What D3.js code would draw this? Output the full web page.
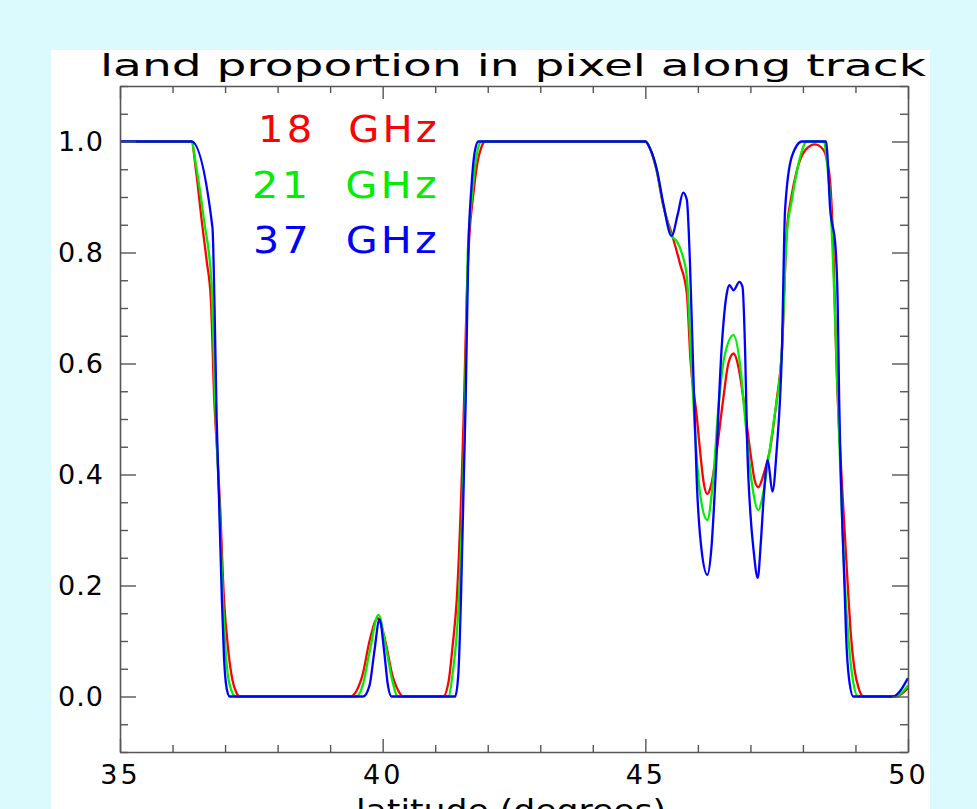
<!DOCTYPE html>
<html>
<head>
<meta charset="utf-8">
<script src="https://cdn.jsdelivr.net/npm/d3@7"></script>
<style>
  html, body { margin: 0; padding: 0; background: #dafafe; }
  svg { display: block; }
</style>
</head>
<body>
<svg id="chart" width="977" height="809"></svg>
<script>
// ---- data ----
const chartTitle = "land proportion in pixel along track";
const xAxisTitle = "latitude (degrees)";
const seriesNames = ["18 GHz", "21 GHz", "37 GHz"];
const seriesColors = ["#ff0000", "#00ee00", "#0000ff"];

const xTickLabels = [35, 40, 45, 50];
const yTickLabels = ["0.0", "0.2", "0.4", "0.6", "0.8", "1.0"];

const lat18 = [35.0, 36.36, 36.45, 36.555, 36.65, 36.73, 36.795, 36.85, 36.90, 36.98, 37.06, 37.14, 37.21, 37.28,
  39.38, 39.50, 39.62, 39.75, 39.905, 40.05, 40.18, 40.30, 40.39,
  41.15, 41.26, 41.33, 41.41, 41.55, 41.60, 41.65, 41.72, 41.80, 41.88, 41.95,
  45.0, 45.1, 45.22, 45.34, 45.52, 45.66, 45.79, 45.86, 45.98, 46.04, 46.12, 46.18, 46.25, 46.36, 46.48, 46.58, 46.68,
  46.78, 46.87, 47.02, 47.08, 47.15, 47.25, 47.37, 47.50, 47.60, 47.69, 47.78, 47.88, 48.05, 48.23, 48.39, 48.47,
  48.52, 48.58, 48.63, 48.75, 48.87, 48.91, 48.98, 49.06, 49.15, 49.79, 49.88, 50.0];
const val18 = [1.0, 1.0, 0.945, 0.858, 0.785, 0.714, 0.534, 0.44, 0.354, 0.174, 0.084, 0.03, 0.008, 0.0,
  0.0, 0.01, 0.04, 0.10, 0.141, 0.10, 0.04, 0.01, 0.0,
  0.0, 0.03, 0.09, 0.174, 0.534, 0.72, 0.83, 0.90, 0.96, 0.99, 1.0,
  1.0, 0.985, 0.945, 0.885, 0.828, 0.78, 0.726, 0.606, 0.504, 0.444, 0.38, 0.365, 0.38, 0.444, 0.534, 0.60, 0.618,
  0.59, 0.534, 0.426, 0.39, 0.377, 0.40, 0.444, 0.534, 0.624, 0.835, 0.90, 0.946, 0.985, 0.995, 0.985, 0.96,
  0.925, 0.805, 0.624, 0.37, 0.174, 0.114, 0.05, 0.015, 0.0, 0.0, 0.005, 0.015];

const lat21 = [35.0, 36.36, 36.45, 36.60, 36.745, 36.81, 36.89, 36.96, 37.02, 37.09, 37.20,
  39.50, 39.62, 39.75, 39.92, 40.06, 40.18, 40.29,
  41.25, 41.33, 41.45, 41.57, 41.62, 41.70, 41.78, 41.88,
  45.0, 45.1, 45.22, 45.34, 45.50, 45.60, 45.69, 45.79, 45.88, 45.95, 46.05, 46.18, 46.28, 46.40, 46.50, 46.68,
  46.80, 46.90, 47.02, 47.15, 47.25, 47.34, 47.45, 47.60, 47.69, 47.79, 47.95, 48.07, 48.40, 48.46, 48.52, 48.60,
  48.66, 48.80, 48.87, 48.95, 49.05, 49.75, 49.88, 50.0];
const val21 = [1.0, 1.0, 0.955, 0.858, 0.74, 0.534, 0.354, 0.174, 0.07, 0.02, 0.0,
  0.0, 0.02, 0.08, 0.147, 0.09, 0.03, 0.0,
  0.0, 0.04, 0.174, 0.534, 0.80, 0.90, 0.97, 1.0,
  1.0, 0.985, 0.947, 0.887, 0.83, 0.82, 0.80, 0.756, 0.594, 0.47, 0.36, 0.318, 0.38, 0.53, 0.61, 0.651,
  0.60, 0.50, 0.39, 0.336, 0.37, 0.426, 0.50, 0.624, 0.83, 0.895, 0.973, 1.0, 1.0, 0.96, 0.895, 0.714,
  0.55, 0.20, 0.10, 0.03, 0.0, 0.0, 0.007, 0.02];

const lat37 = [35.0, 36.36, 36.76, 36.80, 36.84, 36.885, 36.94, 36.98, 37.03, 37.09,
  39.63, 39.75, 39.84, 39.94, 40.03, 40.10, 40.17,
  41.38, 41.44, 41.49, 41.58, 41.63, 41.69, 41.75, 41.82,
  45.0, 45.1, 45.22, 45.34, 45.50, 45.62, 45.72, 45.79, 45.85, 45.91, 45.98, 46.07, 46.18, 46.26, 46.33, 46.45,
  46.55, 46.60, 46.68, 46.79, 46.85, 46.90, 46.94, 47.00, 47.06, 47.14, 47.20, 47.25, 47.33, 47.42, 47.50, 47.60,
  47.66, 47.79, 47.98, 48.44, 48.52, 48.62, 48.66, 48.69, 48.80, 48.82, 48.88, 48.96, 49.72, 49.85, 49.92, 50.0];
const val37 = [1.0, 1.0, 0.845, 0.70, 0.50, 0.354, 0.174, 0.07, 0.015, 0.0,
  0.0, 0.02, 0.08, 0.139, 0.08, 0.02, 0.0,
  0.0, 0.04, 0.174, 0.534, 0.80, 0.918, 0.98, 1.0,
  1.0, 0.985, 0.949, 0.889, 0.83, 0.87, 0.908, 0.895, 0.78, 0.594, 0.385, 0.264, 0.219, 0.27, 0.384, 0.624,
  0.726, 0.741, 0.732, 0.747, 0.738, 0.62, 0.45, 0.33, 0.264, 0.214, 0.28, 0.354, 0.426, 0.369, 0.444, 0.624,
  0.877, 0.973, 1.0, 1.0, 0.877, 0.81, 0.714, 0.534, 0.174, 0.114, 0.03, 0.0, 0.0, 0.01, 0.02, 0.033];

// ---- drawing ----
(function () {
const svg = d3.select("#chart");
const W = 977, H = 809;
const pLeft = 120, pRight = 908, pTop = 86, pBottom = 752;
const FONT = "'DejaVu Sans', 'Liberation Sans', sans-serif";

// white panel
svg.append("rect").attr("x", 51).attr("y", 50).attr("width", 879).attr("height", H - 50).attr("fill", "#ffffff");

const x = d3.scaleLinear().domain([35, 50]).range([pLeft, pRight]);
const y = d3.scaleLinear().domain([-0.1, 1.1]).range([pBottom, pTop]);

const series = [
  { name: seriesNames[0], color: seriesColors[0], lat: lat18, val: val18 },
  { name: seriesNames[1], color: seriesColors[1], lat: lat21, val: val21 },
  { name: seriesNames[2], color: seriesColors[2], lat: lat37, val: val37 }
];

const clipId = "plotclip";
svg.append("clipPath").attr("id", clipId).append("rect")
  .attr("x", pLeft).attr("y", pTop).attr("width", pRight - pLeft).attr("height", pBottom - pTop);

const line = d3.line()
  .x(d => x(d[0]))
  .y(d => y(d[1]))
  .curve(d3.curveMonotoneX);

const gLines = svg.append("g").attr("clip-path", `url(#${clipId})`);
series.forEach(s => {
  const pts = s.lat.map((la, i) => [la, s.val[i]]);
  gLines.append("path")
    .datum(pts)
    .attr("d", line)
    .attr("fill", "none")
    .attr("stroke", s.color)
    .attr("stroke-width", 2.3)
    .attr("stroke-linejoin", "round");
});

// axes
const axisColor = "#555";
const xMinor = d3.range(35, 51, 1).filter(v => !xTickLabels.includes(v));
const yMajorVals = yTickLabels.map(Number);
const yMinor = d3.range(-0.1, 1.1001, 0.05).map(v => +v.toFixed(2)).filter(v => !yMajorVals.some(m => Math.abs(m - v) < 1e-6));

function styleAxis(g) {
  g.selectAll("path").attr("stroke", axisColor).attr("stroke-width", 1.6);
  g.selectAll("line").attr("stroke", axisColor).attr("stroke-width", 1.4);
  g.selectAll("text").attr("fill", "#000").attr("font-family", FONT).attr("font-size", 27);
}

// bottom
svg.append("g").attr("transform", `translate(0,${pBottom})`)
  .call(d3.axisBottom(x).tickValues(xMinor).tickSize(-7).tickSizeOuter(0).tickFormat(""))
  .call(styleAxis);
const gxb = svg.append("g").attr("transform", `translate(0,${pBottom})`)
  .call(d3.axisBottom(x).tickValues(xTickLabels).tickSize(-13).tickSizeOuter(0).tickPadding(32).tickFormat(d3.format("d")))
  .call(styleAxis);
gxb.selectAll("text").attr("letter-spacing", 3).attr("dy", 0);
gxb.select(".domain").remove();

// top
svg.append("g").attr("transform", `translate(0,${pTop})`)
  .call(d3.axisTop(x).tickValues(xMinor).tickSize(-7).tickSizeOuter(0).tickFormat(""))
  .call(styleAxis);
svg.append("g").attr("transform", `translate(0,${pTop})`)
  .call(d3.axisTop(x).tickValues(xTickLabels).tickSize(-13).tickSizeOuter(0).tickFormat(""))
  .call(styleAxis).select(".domain").remove();

// left
svg.append("g").attr("transform", `translate(${pLeft},0)`)
  .call(d3.axisLeft(y).tickValues(yMinor).tickSize(-8).tickSizeOuter(0).tickFormat(""))
  .call(styleAxis);
const gyl = svg.append("g").attr("transform", `translate(${pLeft},0)`)
  .call(d3.axisLeft(y).tickValues(yMajorVals).tickSize(-16).tickSizeOuter(0).tickPadding(16)
    .tickFormat((d, i) => yTickLabels[i]))
  .call(styleAxis);
gyl.select(".domain").remove();
gyl.selectAll("text").attr("letter-spacing", 1);

// right
svg.append("g").attr("transform", `translate(${pRight},0)`)
  .call(d3.axisRight(y).tickValues(yMinor).tickSize(-8).tickSizeOuter(0).tickFormat(""))
  .call(styleAxis);
svg.append("g").attr("transform", `translate(${pRight},0)`)
  .call(d3.axisRight(y).tickValues(yMajorVals).tickSize(-16).tickSizeOuter(0).tickFormat(""))
  .call(styleAxis).select(".domain").remove();

// title
svg.append("text")
  .attr("x", 100).attr("y", 76)
  .attr("font-family", FONT).attr("font-size", 31)
  .attr("textLength", 826).attr("lengthAdjust", "spacingAndGlyphs")
  .attr("fill", "#000")
  .text(chartTitle);

// x axis title (cut off by the bottom edge, as in the reference)
svg.append("text")
  .attr("x", 356).attr("y", 821)
  .attr("font-family", FONT).attr("font-size", 31)
  .attr("textLength", 310).attr("lengthAdjust", "spacingAndGlyphs")
  .attr("fill", "#000")
  .text(xAxisTitle);

// legend
const legendX = [258, 252, 253];
const legendY = [142, 198, 253];
series.forEach((s, i) => {
  svg.append("text")
    .attr("x", legendX[i]).attr("y", legendY[i])
    .attr("font-family", FONT).attr("font-size", 38)
    .attr("letter-spacing", 3).attr("word-spacing", 16)
    .attr("textLength", 440 - legendX[i]).attr("lengthAdjust", "spacingAndGlyphs")
    .attr("fill", s.color)
    .text(s.name);
});
})();
</script>
</body>
</html>
